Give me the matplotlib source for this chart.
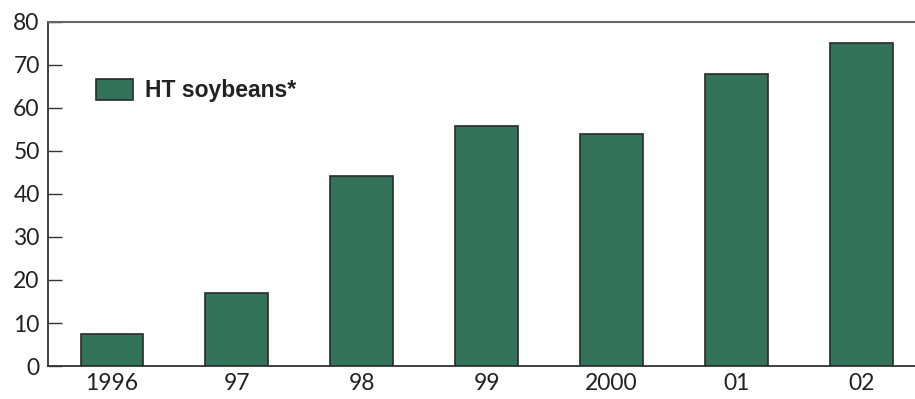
import matplotlib
matplotlib.use("Agg")
import matplotlib.pyplot as plt
from matplotlib.patches import Patch

years = ["1996", "97", "98", "99", "2000", "01", "02"]
ht_soybeans = [7.4, 17, 44.2, 55.8, 54, 68, 75]
yticks = [0, 10, 20, 30, 40, 50, 60, 70, 80]

green = "#33735a"
edge = "#2a2a2a"

plt.rcParams['font.family'] = ['Lato', 'DejaVu Sans']

fig = plt.figure(figsize=(9.15, 3.99), dpi=100)
ax = fig.add_axes([0.0525, 0.0827, 0.9475, 0.8622])

x = range(len(years))
ax.bar(x, ht_soybeans, width=0.5, color=green, edgecolor=edge, linewidth=1.2, zorder=3)

ax.set_xlim(-0.51, 6.43)
ax.set_ylim(0, 80)
ax.set_yticks(yticks)
ax.set_xticks(list(x))
ax.set_xticklabels(years)

ax.tick_params(axis='y', direction='in', length=10, width=1, color='#333333',
               labelsize=16.5, pad=6, labelcolor='#222222')
ax.tick_params(axis='x', length=0, labelsize=16.5, pad=5, labelcolor='#222222')

ax.spines['right'].set_visible(False)
ax.spines['top'].set_color('#666666')
ax.spines['top'].set_linewidth(1.5)
ax.spines['left'].set_color('#333333')
ax.spines['left'].set_linewidth(1.3)
ax.spines['bottom'].set_color('#333333')
ax.spines['bottom'].set_linewidth(1.3)

handles = [Patch(facecolor=green, edgecolor=edge, linewidth=1.2, label="HT soybeans*")]
leg = ax.legend(handles=handles, loc='upper left', bbox_to_anchor=(0.0554, 0.835),
                frameon=False, borderpad=0, borderaxespad=0,
                handlelength=1.6, handleheight=1.05, handletextpad=0.55,
                prop={'family': 'Liberation Sans', 'weight': 'bold', 'size': 16.5})
for t in leg.get_texts():
    t.set_color('#222222')

fig.savefig("out.png", dpi=100)
